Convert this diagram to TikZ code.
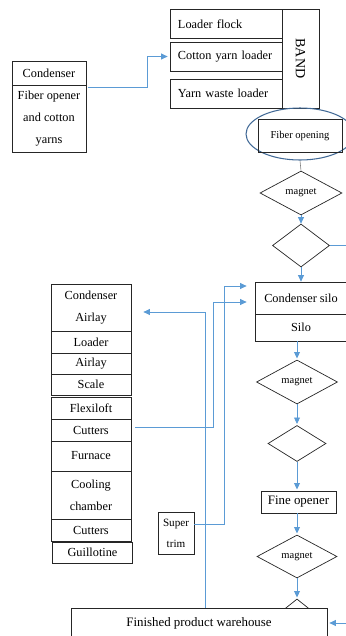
\documentclass[tikz,border=0pt]{standalone}
\usepackage{fontspec}
\setmainfont{Liberation Serif}
\usetikzlibrary{shapes.geometric, arrows.meta}

\definecolor{flowblue}{RGB}{91,155,213}
\definecolor{ringblue}{RGB}{65,105,150}

\begin{document}
\begin{tikzpicture}[x=0.03cm, y=-0.03cm]

% Define styles
\def\px{0.03cm}
\tikzstyle{box}=[draw=black!85, line width=0.6pt, rectangle, inner sep=0pt, align=center, font=\fontsize{10.5}{18.5}\selectfont]
\tikzstyle{topbox}=[box, align=left, inner xsep=0.24cm, text width=2.88cm, minimum height=29*\px]
\tikzstyle{decision}=[draw=black!85, line width=0.6pt, diamond, inner sep=0pt, font=\fontsize{9}{11}\selectfont]
\tikzstyle{flow}=[draw=flowblue, line width=0.7pt, -{Triangle[length=5.5pt,width=5pt]}]

% Frame
\useasboundingbox (0,0) rectangle (346,636);

% Loaders and band
\node[topbox] (flock) at (226,24) {Loader flock};
\node[topbox] (cotton) at (226,56.5) {Cotton yarn loader};
\node[topbox] (waste) at (226,93.5) {Yarn waste loader};
\node[box, rotate=-90, minimum width=99*\px, minimum height=37*\px, font=\fontsize{12}{14}\selectfont] (band) at (300.5,58.5) {BAND};

% Condenser on the left
\node[box, minimum width=74*\px, minimum height=24*\px] (cond) at (49,73) {Condenser};
\node[box, minimum width=74*\px, minimum height=67*\px] (fibop) at (49,118.5) {Fiber opener\\and cotton\\yarns};

% Fiber opening
\node[draw=ringblue, line width=0.9pt, ellipse, minimum width=108*\px, minimum height=52*\px] (ring) at (300,134) {};
\node[box, minimum width=84*\px, minimum height=33*\px, font=\fontsize{9}{11}\selectfont] (fopen) at (300,135.5) {Fiber opening};

% Main column
\node[decision, minimum width=82*\px, minimum height=44*\px] (mag1) at (301,193) {magnet};
\node[decision, minimum width=57*\px, minimum height=43*\px] (dia1) at (301,245.5) {};
\node[box, minimum width=92*\px, minimum height=32*\px] (csilo) at (301,298) {Condenser silo};
\node[box, minimum width=92*\px, minimum height=27*\px] (silo) at (301,327.5) {Silo};
\node[decision, minimum width=81*\px, minimum height=44*\px] (mag2) at (297,382) {magnet};
\node[decision, minimum width=58*\px, minimum height=36*\px] (dia2) at (297,443.5) {};
\node[box, minimum width=75*\px, minimum height=22*\px, font=\fontsize{11}{13}\selectfont] (fine) at (298.5,502) {Fine opener};
\node[decision, minimum width=80*\px, minimum height=43*\px] (mag3) at (297,556.5) {magnet};
\node[decision, minimum width=58*\px, minimum height=46*\px] (dia3) at (297,622) {};
\node[box, fill=white, minimum width=256*\px, minimum height=30*\px, font=\fontsize{11}{13}\selectfont] (store) at (199,623) {Finished product warehouse};

% Line stack
\foreach \n/\x/\y/\h/\t in {cair/91/307.5/47/{Condenser\\Airlay}, load/91/342/22/Loader,
    airl/91/363.5/21/Airlay, scale/91/384.5/21/Scale, flex/91/408/22/Flexiloft,
    cut/91/430/22/Cutters, furn/91/456/30/Furnace, cool/91/495/48/{Cooling\\chamber},
    cuttwo/91/530/22/Cutters, guil/92.5/552.5/21/Guillotine} {
  \node[box, minimum width=80*\px, minimum height=\h*\px] (\n) at (\x,\y) {\t};
}
\node[box, minimum width=36*\px, minimum height=42*\px, font=\fontsize{9.5}{18}\selectfont] (trim) at (176,533) {Super\\trim};

% Connectors
\coordinate (rim) at (362,0);
\coordinate (inA) at ([xshift=-8*\px, yshift=-4*\px]csilo.west);
\coordinate (inB) at ([xshift=-8*\px, yshift=12*\px]csilo.west);

\draw[flow] ([xshift=2*\px, yshift=-3*\px]fibop.north east) -- ++(59,0) |- ([xshift=-2*\px]cotton.west);
\draw[gray, line width=0.5pt] (ring.south) -- (mag1.north);
\draw[flow] (mag1.south) -- (dia1.north);
\draw[flow] (dia1.south) -- (csilo.north -| dia1.south);
\draw[flow] (dia1.east) -- (dia1.east -| rim) |- ([xshift=2*\px]store.east);
\draw[flow, shorten >=1pt] (silo.south -| mag2.north) -- (mag2.north);
\draw[flow, shorten >=1pt] (mag2.south) -- (dia2.north);
\draw[flow, shorten >=1pt] (dia2.south) -- (fine.north -| dia2.south);
\draw[flow, shorten >=1pt] (fine.south -| mag3.north) -- (mag3.north);
\draw[flow, shorten >=1pt] (mag3.south) -- (dia3.north);

\draw[flow] ([xshift=4*\px, yshift=3*\px]cut.east) -- ++(78,0) |- (inA);
\draw[flow] ([yshift=9*\px]trim.east) -- ++(30,0) |- (inB);
\draw[flow] ([xshift=6*\px]store.north) |- ([xshift=12*\px, yshift=-4.5*\px]cair.east);

\end{tikzpicture}
\end{document}
